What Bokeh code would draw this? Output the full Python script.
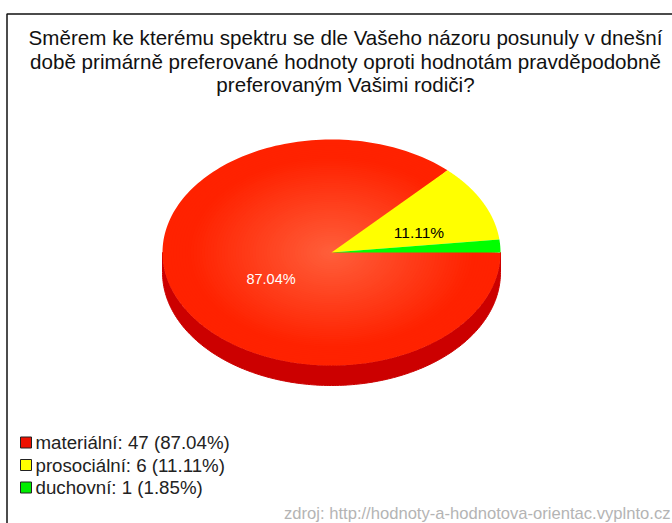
import math
from bokeh.plotting import figure
from bokeh.models import Range1d
from bokeh.core.properties import value
from bokeh.embed import file_html
from bokeh.resources import INLINE

title_lines = ["Směrem ke kterému spektru se dle Vašeho názoru posunuly v dnešní",
               "době primárně preferované hodnoty oproti hodnotám pravděpodobně",
               "preferovaným Vašimi rodiči?"]
categories = ["materiální", "prosociální", "duchovní"]
counts = [47, 6, 1]
colors = ["#ff2200", "#ffff00", "#00ff00"]
legend_colors = ["#ee1100", "#ffff00", "#00ee00"]
source_text = "zdroj: http://hodnoty-a-hodnotova-orientac.vyplnto.cz"

W, H = 672, 523
FONT = value("Liberation Sans")
p = figure(width=W, height=H, output_backend="svg", toolbar_location=None,
           x_range=Range1d(0, W), y_range=Range1d(H, 0), min_border=0)
p.styles = {"position": "absolute", "left": "0px", "top": "0px"}
p.axis.visible = False
p.grid.visible = False
p.outline_line_color = None
p.background_fill_color = "white"

CX, CY, RX, RY, DEPTH = 331, 252, 169, 113, 20
total = sum(counts)
pct = [100 * c / total for c in counts]

def arc(a0, a1, scale=1.0, dy=0, n=200):
    pts = [math.radians(a0 + (a1 - a0) * i / n) for i in range(n + 1)]
    return ([CX + scale * RX * math.cos(t) for t in pts],
            [CY + dy - scale * RY * math.sin(t) for t in pts])

ang_green = 360 * counts[2] / total
ang_yellow = ang_green + 360 * counts[1] / total

# side wall
x1, y1 = arc(180, 360)
x2, y2 = arc(360, 180, dy=DEPTH)
p.patch(x1 + x2, y1 + y2, fill_color="#cc0000", line_color="#cc0000")

# red slice with radial shading
steps = 60
EDGE = 0.85
for i in range(steps):
    s = 1 - i / steps
    t = 0 if s > EDGE else (EDGE - s) / EDGE
    g = int(34 + t * (96 - 34))
    b = int(0 + t * (60 - 0))
    xs, ys = arc(ang_yellow, 360, s)
    p.patch([CX] + xs, [CY] + ys, fill_color=f"#ff{g:02x}{b:02x}", line_color=None)

xs, ys = arc(ang_green, ang_yellow)
p.patch([CX] + xs, [CY] + ys, fill_color=colors[1], line_color=None)
xs, ys = arc(0, ang_green)
p.patch([CX] + xs, [CY] + ys, fill_color=colors[2], line_color=None)

# slice labels
p.text([418.5], [232], text=[f"{pct[1]:.2f}%"], text_font=FONT, text_font_size="15.5px",
       text_color="black", text_align="center", text_baseline="middle")
p.text([270.5], [278], text=[f"{pct[0]:.2f}%"], text_font=FONT, text_font_size="14.5px",
       text_color="white", text_align="center", text_baseline="middle")

# title
for i, line in enumerate(title_lines):
    p.text([345], [37 + i * 23.5], text=[line], text_font=FONT, text_font_size="20.6px",
           text_color="#111111", text_align="center", text_baseline="middle")

# legend
for i, (cat, c, col, pc) in enumerate(zip(categories, counts, legend_colors, pct)):
    yy = 442 + i * 22.5
    p.rect([25.5], [yy], width=11, height=11, fill_color=col, line_color="#222222", line_width=1)
    p.text([35], [yy], text=[f"{cat}: {c} ({pc:.2f}%)"], text_font=FONT, text_font_size="18.7px",
           text_color="#222222", text_align="left", text_baseline="middle")

# source
p.text([670], [513], text=[source_text], text_font=FONT, text_font_size="16.6px",
       text_color="#b4b4b4", text_align="right", text_baseline="middle")

# frame
p.line([6.5, 6.5, W], [H, 13.5, 13.5], line_color="#111111", line_width=1.5)

open("out.html", "w").write(file_html(p, INLINE))
